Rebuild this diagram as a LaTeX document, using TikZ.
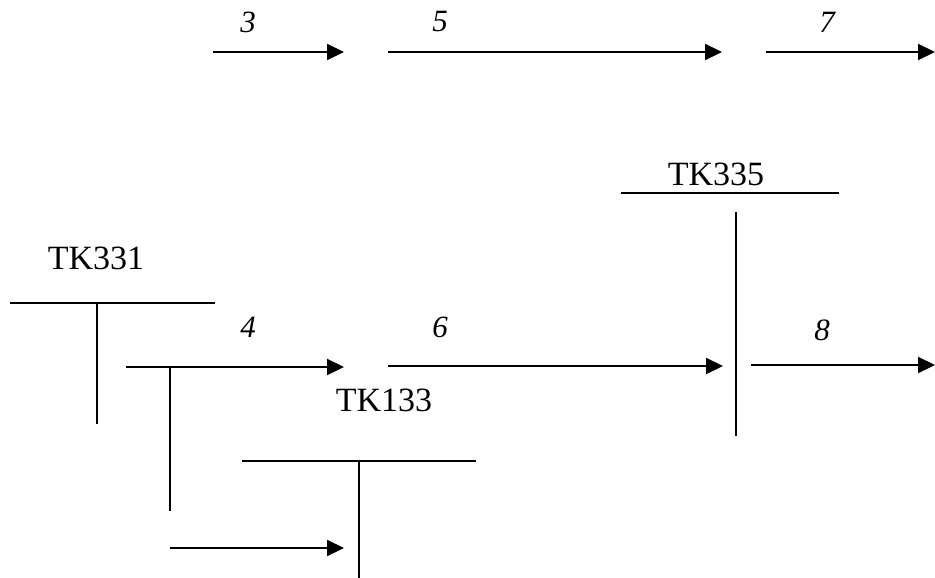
\documentclass[tikz,border=0pt]{standalone}
\usepackage{fontspec}
\setmainfont{Liberation Serif}
\usetikzlibrary{arrows.meta}
\begin{document}
\begin{tikzpicture}[x=1pt,y=-1pt,
  flow/.style={line width=2.2pt,-{Triangle[length=17pt,width=16pt]}},
  bar/.style={line width=2.2pt},
  num/.style={inner sep=0pt,font=\fontsize{31}{31}\selectfont\itshape},
  tag/.style={inner sep=0pt,font=\fontsize{34}{34}\selectfont}]
\useasboundingbox (0,0) rectangle (935,578);

% top row of flows
\coordinate (a3s) at (213,52);  \coordinate (a3e) at (344,52);
\coordinate (a5s) at (388,52);  \coordinate (a5e) at (722,52);
\coordinate (a7s) at (766,52);  \coordinate (a7e) at (935,52);
\draw[flow] (a3s) -- (a3e);
\draw[flow] (a5s) -- (a5e);
\draw[flow] (a7s) -- (a7e);
\node[num] (n3) at (248,22) {3};
\node[num] (n5) at (440,22) {5};
\node[num] (n7) at (827,22) {7};

% TK331
\node[tag] (tk331) at (96,258) {TK331};
\coordinate (b1l) at (10,303);  \coordinate (b1r) at (215,303);
\coordinate (b1t) at (97,303);  \coordinate (b1b) at (97,424);
\draw[bar] (b1l) -- (b1r);
\draw[bar] (b1t) -- (b1b);

% flow 4 with its branch
\coordinate (a4s) at (126,367); \coordinate (a4e) at (344,367);
\draw[flow] (a4s) -- (a4e);
\coordinate (v4t) at (170,367); \coordinate (v4b) at (170,511);
\draw[bar] (v4t) -- (v4b);
\node[num] (n4) at (248,327) {4};

% flow 6
\coordinate (a6s) at (388,366); \coordinate (a6e) at (723,366);
\draw[flow] (a6s) -- (a6e);
\node[num] (n6) at (440,327) {6};

% TK133
\node[tag] (tk133) at (384,400) {TK133};
\coordinate (b2l) at (242,461); \coordinate (b2r) at (476,461);
\coordinate (b2t) at (359,461); \coordinate (b2b) at (359,578);
\draw[bar] (b2l) -- (b2r);
\draw[bar] (b2t) -- (b2b);
\coordinate (a9s) at (170,548); \coordinate (a9e) at (344,548);
\draw[flow] (a9s) -- (a9e);

% TK335
\node[tag] (tk335) at (716,174) {TK335};
\coordinate (b3l) at (621,193); \coordinate (b3r) at (839,193);
\draw[bar] (b3l) -- (b3r);
\coordinate (b3t) at (736,212); \coordinate (b3b) at (736,436);
\draw[bar] (b3t) -- (b3b);

% flow 8
\coordinate (a8s) at (751,365); \coordinate (a8e) at (935,365);
\draw[flow] (a8s) -- (a8e);
\node[num] (n8) at (822,330) {8};
\end{tikzpicture}
\end{document}
